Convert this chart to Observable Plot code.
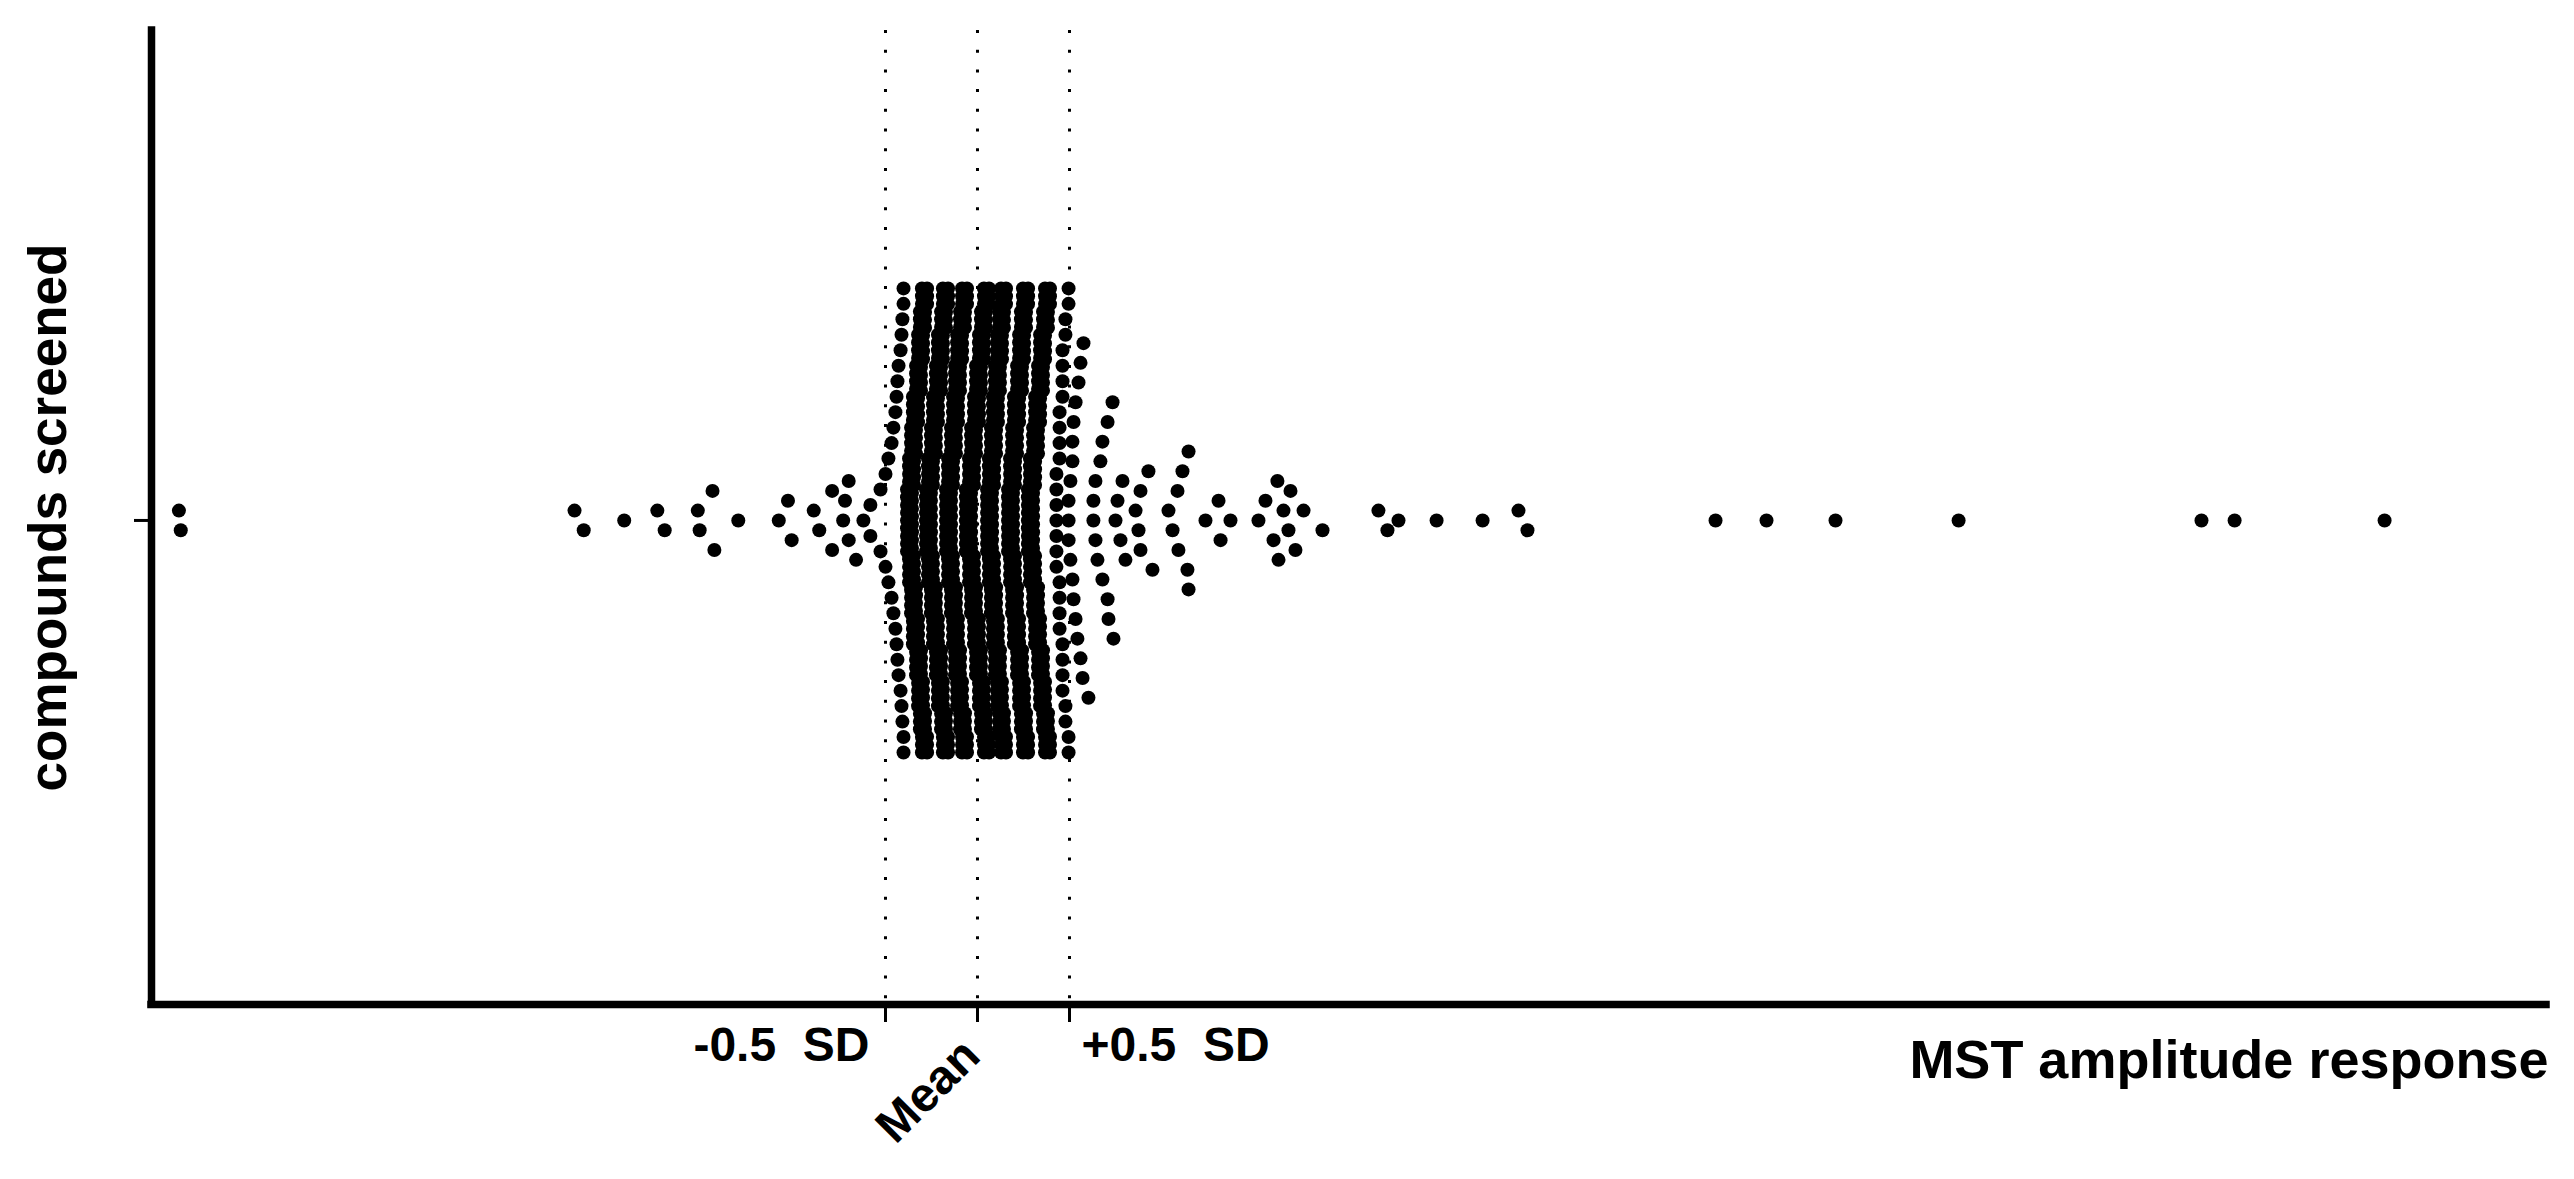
<!DOCTYPE html>
<html>
<head>
<meta charset="utf-8">
<script src="https://cdn.jsdelivr.net/npm/d3@7"></script>
<script src="https://cdn.jsdelivr.net/npm/@observablehq/plot@0.6"></script>
<style>
  html, body { margin: 0; padding: 0; background: #ffffff; }
  #chart svg { display: block; }
</style>
</head>
<body>
<div id="chart"></div>
<script>
// ---------------- data (MST amplitude response, in SD units from the mean) ----------------
const sdTicks = [-0.5, 0, 0.5];
const sdTickLabels = ["-0.5\u00a0\u00a0SD", "Mean", "+0.5\u00a0\u00a0SD"];
const xTitle = "MST amplitude response";
const yTitle = "compounds screened";

// sparse columns of the swarm: each inner list = compounds sharing one column
const leftColumns = [
  [-4.34, -4.33],
  [-2.19, -2.14],
  [-1.92],
  [-1.74, -1.70],
  [-1.52, -1.51, -1.44, -1.43],
  [-1.30],
  [-1.08, -1.03, -1.01],
  [-0.89, -0.86, -0.79, -0.79],
  [-0.73, -0.72, -0.70, -0.70, -0.66]
];

const rightColumns = [
  [0.495, 0.495, 0.495, 0.505, 0.505, 0.516, 0.516, 0.516, 0.522, 0.522, 0.533, 0.533, 0.543, 0.549, 0.560, 0.560, 0.571, 0.576, 0.603],
  [0.630, 0.630, 0.641, 0.641, 0.652, 0.668, 0.679, 0.679, 0.707, 0.707, 0.712, 0.734, 0.739],
  [0.750, 0.761, 0.777, 0.788, 0.804],
  [0.859, 0.875, 0.886, 0.886, 0.929, 0.951],
  [1.038, 1.060, 1.087, 1.092, 1.114, 1.141, 1.147, 1.147],
  [1.239, 1.310, 1.321],
  [1.375],
  [1.527, 1.565, 1.609, 1.630, 1.636],
  [1.663, 1.690, 1.701, 1.728],
  [1.772, 1.875],
  [2.179, 2.228],
  [2.288],
  [2.495],
  [2.745],
  [2.940, 2.989],
  [4.011],
  [4.288],
  [4.663],
  [5.332],
  [6.652],
  [6.832],
  [7.647]
];

// dense columns around the mean: distinct values and how many compounds have each
const denseValues = [
  [-0.620, -0.582, -0.527, -0.500, -0.484, -0.467, -0.457, -0.446, -0.440, -0.435, -0.429, -0.418, -0.413, -0.408, -0.402],
  [-0.383, -0.372, -0.361, -0.351, -0.334, -0.323, -0.313, -0.302],
  [-0.356, -0.345, -0.334, -0.323, -0.307, -0.296, -0.285, -0.274],
  [-0.280, -0.269, -0.253, -0.242, -0.226, -0.215, -0.198, -0.188],
  [-0.253, -0.242, -0.226, -0.215, -0.198, -0.188, -0.171, -0.160],
  [-0.171, -0.160, -0.144, -0.133, -0.122, -0.111, -0.095, -0.084],
  [-0.144, -0.133, -0.117, -0.106, -0.095, -0.084, -0.068, -0.057],
  [-0.063, -0.046, -0.035, -0.019, -0.008, 0.008, 0.019, 0.035],
  [-0.035, -0.019, -0.008, 0.008, 0.019, 0.035, 0.046, 0.063],
  [0.052, 0.062, 0.073, 0.084, 0.095, 0.106, 0.117, 0.128],
  [0.079, 0.090, 0.101, 0.111, 0.122, 0.133, 0.144, 0.155],
  [0.166, 0.177, 0.188, 0.198, 0.215, 0.226, 0.236, 0.247],
  [0.193, 0.204, 0.215, 0.226, 0.242, 0.253, 0.264, 0.275],
  [0.274, 0.285, 0.302, 0.313, 0.329, 0.340, 0.356, 0.367],
  [0.302, 0.313, 0.329, 0.340, 0.356, 0.367, 0.383, 0.394],
  [0.429, 0.446, 0.462, 0.478, 0.495]
];
const denseCounts = [
  [1, 2, 2, 2, 2, 2, 2, 2, 2, 2, 2, 2, 2, 2, 4],
  [9, 8, 8, 8, 8, 8, 6, 6], [8, 8, 8, 8, 8, 8, 6, 6],
  [9, 8, 8, 8, 8, 8, 6, 6], [8, 8, 8, 8, 8, 8, 6, 6],
  [9, 8, 8, 8, 8, 8, 6, 6], [8, 8, 8, 8, 8, 8, 6, 6],
  [9, 8, 8, 8, 8, 8, 6, 6], [8, 8, 8, 8, 8, 8, 6, 6],
  [9, 8, 8, 8, 8, 8, 6, 6], [8, 8, 8, 8, 8, 8, 6, 6],
  [9, 8, 8, 8, 8, 8, 6, 6], [8, 8, 8, 8, 8, 8, 6, 6],
  [9, 8, 8, 8, 8, 8, 6, 6], [8, 8, 8, 8, 8, 8, 6, 6],
  [7, 8, 8, 4, 4]
];

// ---------------- swarm layout (column scatter, sorted centre-out) ----------------
const MAX_HALF = 11.78; // max half-height of a column, in dot rows
function layoutColumn(values) {
  const v = values.slice().sort((a, b) => a - b);
  const n = v.length;
  const step = n > 1 ? Math.min(1, (2 * MAX_HALF) / (n - 1)) : 1;
  return v.map((x, i) => {
    let slot;
    if (n % 2) {
      const k = Math.ceil(i / 2);
      slot = i === 0 ? 0 : (i % 2 ? -k : k);
    } else {
      const k = Math.floor(i / 2) + 0.5;
      slot = i % 2 ? k : -k;
    }
    return {x, y: slot * step};
  });
}

const dots = [];
for (const col of leftColumns) dots.push(...layoutColumn(col));
denseValues.forEach((vals, j) => {
  const expanded = vals.flatMap((v, k) => Array(denseCounts[j][k]).fill(v));
  dots.push(...layoutColumn(expanded));
});
for (const col of rightColumns) dots.push(...layoutColumn(col));

// ---------------- chart ----------------
const X_DOMAIN = [-4.489, 8.527];
const Y_DOMAIN = [-24.87, 24.57];
const FONT = "'Liberation Sans', Arial, Helvetica, sans-serif";

const chart = Plot.plot({
  width: 2574,
  height: 1179,
  marginLeft: 151,
  marginRight: 28,
  marginTop: 30,
  marginBottom: 175,
  style: {fontFamily: FONT, background: "#ffffff", color: "#000"},
  x: {domain: X_DOMAIN},
  y: {domain: Y_DOMAIN, reverse: true},
  marks: [
    Plot.ruleX(sdTicks, {x: d => d, stroke: "#000", strokeWidth: 3, strokeDasharray: "3,16.7"}),
    Plot.dot(dots, {x: "x", y: "y", r: 7, fill: "#000", stroke: "none"}),
    Plot.axisY({ticks: [0], tickFormat: () => "", tickSize: 17, strokeWidth: 3, label: null}),
    Plot.axisX({ticks: sdTicks, tickFormat: () => "", tickSize: 18, strokeWidth: 3, label: null}),
    Plot.ruleX([X_DOMAIN[0]], {stroke: "#000", strokeWidth: 7.5, strokeLinecap: "square"}),
    Plot.ruleY([Y_DOMAIN[1]], {stroke: "#000", strokeWidth: 7.5, strokeLinecap: "square"}),
    Plot.text([sdTicks[0]], {x: d => d, frameAnchor: "bottom", text: () => sdTickLabels[0],
      textAnchor: "end", lineAnchor: "top", dx: -16, dy: 22, fontSize: 48, fontWeight: "bold", fill: "#000"}),
    Plot.text([sdTicks[1]], {x: d => d, frameAnchor: "bottom", text: () => sdTickLabels[1],
      textAnchor: "end", lineAnchor: "middle", rotate: -45, dx: -6, dy: 43, fontSize: 48, fontWeight: "bold", fill: "#000"}),
    Plot.text([sdTicks[2]], {x: d => d, frameAnchor: "bottom", text: () => sdTickLabels[2],
      textAnchor: "start", lineAnchor: "top", dx: 12, dy: 22, fontSize: 48, fontWeight: "bold", fill: "#000"}),
    Plot.text([xTitle], {frameAnchor: "bottom-right", text: d => d, textAnchor: "end", lineAnchor: "top",
      dx: 2, dy: 35, fontSize: 54, fontWeight: "bold", fill: "#000"}),
    Plot.text([yTitle], {frameAnchor: "left", text: d => d, rotate: -90, textAnchor: "middle", lineAnchor: "middle",
      dx: -102, dy: 0, fontSize: 53, fontWeight: "bold", fill: "#000"})
  ]
});
document.getElementById("chart").appendChild(chart);
</script>
</body>
</html>
